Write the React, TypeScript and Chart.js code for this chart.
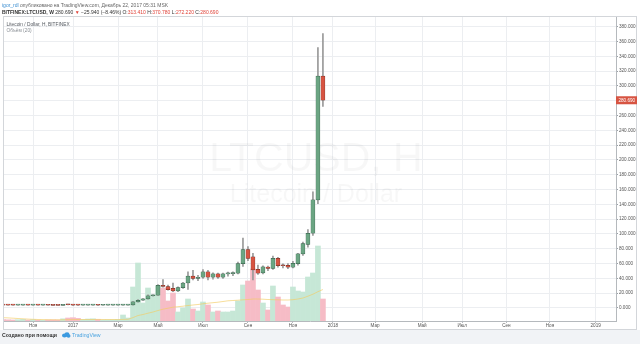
import React, { useEffect, useRef } from 'react';
import { Chart, registerables } from 'chart.js';

Chart.register(...registerables);

// ---- data (weekly LTCUSD, Bitfinex) ----
const FIRST_WEEK = '2016-09-26';

const opens = [
  3.85, 3.83, 3.8, 3.75, 3.8, 3.95, 3.85, 3.9, 3.85, 3.88, 3.72, 3.6, 3.55, 4.45, 4.35, 3.95, 3.8, 3.85, 3.9, 3.95, 3.7, 3.75, 3.8, 3.82, 3.9, 3.95,
  4.1, 8.3, 10.5, 12.3, 16.5, 17.3, 30.5, 29.0, 26.5, 23.2, 27.5, 33.8, 43.0, 40.0, 41.5, 49.0, 41.5, 46.0, 41.5, 46.0, 46.5, 47.0, 60.0,
  79.0, 69.0, 52.3, 47.5, 55.3, 53.5, 67.0, 57.5, 57.5, 55.0, 60.0, 73.0, 86.0, 101.0, 146.0, 313.41,
];
const highs = [
  3.95, 3.9, 3.88, 3.85, 4.05, 4.0, 3.95, 3.98, 3.92, 3.95, 3.8, 3.7, 4.6, 4.6, 4.6, 4.1, 3.95, 3.92, 4.0, 4.0, 3.8, 3.9, 3.9, 4.0, 4.1, 4.2,
  8.8, 11.5, 12.8, 17.8, 17.8, 31.5, 38.5, 31.0, 33.5, 28.5, 34.5, 49.0, 51.0, 44.0, 52.0, 51.0, 47.5, 47.0, 47.0, 48.5, 49.0, 62.0, 94.5,
  83.0, 74.0, 58.0, 57.0, 56.5, 70.0, 68.5, 59.5, 60.0, 63.0, 74.0, 89.0, 106.0, 157.0, 352.0, 370.78,
];
const lows = [
  3.78, 3.75, 3.72, 3.7, 3.78, 3.8, 3.8, 3.8, 3.8, 3.7, 3.55, 3.5, 3.5, 4.2, 3.6, 3.5, 3.75, 3.8, 3.8, 3.6, 3.65, 3.7, 3.75, 3.75, 3.8, 3.8,
  3.9, 8.0, 10.2, 12.0, 15.8, 17.0, 28.0, 24.0, 22.0, 22.0, 26.5, 25.0, 38.0, 37.0, 40.0, 38.0, 39.0, 40.0, 40.0, 43.0, 43.5, 46.0, 56.0,
  64.0, 38.0, 45.5, 46.0, 50.5, 52.0, 55.0, 54.0, 53.0, 54.0, 58.0, 71.0, 82.0, 98.0, 141.0, 272.22,
];
const closes = [
  3.83, 3.8, 3.75, 3.8, 3.95, 3.85, 3.9, 3.85, 3.88, 3.72, 3.6, 3.55, 4.45, 4.35, 3.95, 3.8, 3.85, 3.9, 3.95, 3.7, 3.75, 3.8, 3.82, 3.9, 3.95, 4.1,
  8.3, 10.5, 12.3, 16.5, 17.3, 30.5, 29.0, 24.8, 23.2, 27.5, 33.8, 43.0, 40.0, 41.5, 49.0, 41.5, 46.0, 41.5, 46.0, 46.5, 47.0, 60.0, 79.0,
  67.0, 51.5, 47.0, 55.5, 53.5, 67.0, 57.0, 57.0, 55.0, 60.2, 73.0, 87.0, 101.0, 146.0, 313.41, 280.69,
];
// volume, thousands of LTC
const volumes = [
  150, 120, 100, 130, 160, 100, 140, 90, 80, 100, 110, 100, 220, 300, 330, 260, 140, 200, 220, 150, 100, 110, 120, 150, 600, 300,
  3400, 5800, 1800, 3300, 2600, 3500, 3300, 2000, 2800, 900, 1300, 2200, 1200, 1000, 1900, 1600, 900, 1000, 900, 900, 1000, 2000, 3600,
  4000, 5200, 3100, 1800, 1100, 3500, 2400, 1600, 1400, 3400, 3000, 2900, 4400, 4800, 7500, 2200,
];
// 20-week moving average of volume, thousands of LTC
const volumeMA = [
  330, 310, 280, 250, 220, 190, 170, 150, 140, 130, 120, 120, 120, 130, 140, 150, 150, 150, 150, 160, 150, 150, 150, 140, 160, 170,
  340, 550, 650, 780, 900, 1050, 1180, 1280, 1380, 1430, 1480, 1550, 1600, 1650, 1720, 1780, 1830, 1880, 1950, 2020, 2050, 2080, 2120,
  2150, 2200, 2200, 2180, 2150, 2130, 2120, 2100, 2100, 2130, 2200, 2300, 2480, 2680, 2930, 3150,
];

const tickDates = [
  '2016-11-07', '2017-01-02', '2017-03-06', '2017-05-01', '2017-07-03', '2017-09-04', '2017-11-06',
  '2018-01-01', '2018-03-01', '2018-05-06', '2018-07-01', '2018-09-01', '2018-11-01', '2019-01-04',
];
const tickLabels = ['Ноя', '2017', 'Мар', 'Май', 'Июл', 'Сен', 'Ноя', '2018', 'Мар', 'Май', 'Июл', 'Сен', 'Ноя', '2019'];
const priceTicks = [0, 20, 40, 60, 80, 100, 120, 140, 160, 180, 200, 220, 240, 260, 280, 300, 320, 340, 360, 380];
const lastPrice = 280.69;

// ---- helpers ----
function dayOffset(iso: string): number {
  const [y, m, d] = iso.split('-').map(Number);
  return (Date.UTC(y, m - 1, d) - Date.UTC(2017, 0, 1)) / 86400000;
}

const FONT = "'Liberation Sans', Arial, sans-serif";
const X_MIN = -95.7;
const X_MAX = 761.5;
const Y_MIN = -17.6;
const Y_MAX = 393.2;
const VOL_MAX = 30400;

const UP = '#6ba583';
const DOWN = '#d75442';

export default function App() {
  const canvasRef = useRef<HTMLCanvasElement | null>(null);

  useEffect(() => {
    const canvas = canvasRef.current;
    if (!canvas) return;
    const start = dayOffset(FIRST_WEEK);
    const days = opens.map((_, i) => start + 7 * i);
    const up = closes.map((c, i) => c >= opens[i]);
    const tickDays = tickDates.map(dayOffset);

    const decor = {
      id: 'decor',
      beforeDraw(chart: any) {
        const { ctx, width, height } = chart;
        ctx.save();
        ctx.fillStyle = '#ffffff';
        ctx.fillRect(0, 0, width, height);
        ctx.fillStyle = '#f1f3f6';
        ctx.fillRect(0, 330, width, height - 330);
        ctx.strokeStyle = '#d3d6da';
        ctx.lineWidth = 1;
        ctx.strokeRect(3.5, 16.5, 633, 313);
        ctx.restore();
      },
      beforeDatasetsDraw(chart: any) {
        const { ctx } = chart;
        ctx.save();
        ctx.textAlign = 'center';
        ctx.textBaseline = 'alphabetic';
        ctx.fillStyle = 'rgba(0,0,0,0.03)';
        ctx.font = `41px ${FONT}`;
        ctx.fillText('LTCUSD, Н', 316, 171);
        ctx.font = `25px ${FONT}`;
        ctx.fillText('Litecoin / Dollar', 316, 202);
        ctx.textAlign = 'left';
        ctx.textBaseline = 'middle';
        ctx.font = `4.8px ${FONT}`;
        ctx.fillStyle = '#555a60';
        ctx.fillText('Litecoin / Dollar, Н, BITFINEX', 6.5, 24.5);
        ctx.fillStyle = '#8a8f95';
        ctx.fillText('Объём (20)', 6.5, 31);
        ctx.restore();
      },
      afterDraw(chart: any) {
        const { ctx } = chart;
        const y = chart.scales.y.getPixelForValue(lastPrice);
        ctx.save();
        ctx.fillStyle = DOWN;
        ctx.fillRect(616, y - 4, 21, 8);
        ctx.fillStyle = '#ffffff';
        ctx.font = `4.6px ${FONT}`;
        ctx.textAlign = 'left';
        ctx.textBaseline = 'middle';
        ctx.fillText(lastPrice.toFixed(3), 618.5, y + 0.3);
        ctx.restore();
      },
    };

    const chart = new Chart(canvas, {
      type: 'bar',
      data: {
        datasets: [
          {
            type: 'bar',
            label: 'Объём',
            yAxisID: 'yv',
            data: days.map((d, i) => ({ x: d, y: volumes[i] })),
            backgroundColor: up.map((u) => (u ? '#c6e7d6' : '#f6bcc6')),
            borderWidth: 0,
            grouped: false,
            barThickness: 5,
            order: 4,
          } as any,
          {
            type: 'line',
            label: 'MA',
            yAxisID: 'yv',
            data: days.map((d, i) => ({ x: d, y: volumeMA[i] })),
            borderColor: 'rgba(242,205,100,0.65)',
            borderWidth: 1,
            pointRadius: 0,
            tension: 0,
            order: 3,
          } as any,
          {
            type: 'bar',
            label: 'Wick',
            yAxisID: 'y',
            data: days.map((d, i) => ({ x: d, y: [lows[i], highs[i]] })),
            backgroundColor: '#999999',
            borderWidth: 0,
            grouped: false,
            barThickness: 1,
            order: 2,
          } as any,
          {
            type: 'bar',
            label: 'LTCUSD',
            yAxisID: 'y',
            data: days.map((d, i) => ({ x: d, y: [opens[i], closes[i]] })),
            backgroundColor: up.map((u) => (u ? UP : DOWN)),
            borderColor: up.map((u) => (u ? '#2a4f3c' : '#5e2219')),
            borderWidth: 0.5,
            borderSkipped: false,
            grouped: false,
            barThickness: 4,
            minBarLength: 1,
            order: 1,
          } as any,
        ],
      },
      options: {
        animation: false,
        responsive: false,
        events: [],
        layout: { padding: { left: 4, top: 17, right: 3, bottom: 15 } },
        plugins: { legend: { display: false }, tooltip: { enabled: false } },
        scales: {
          x: {
            type: 'linear',
            min: X_MIN,
            max: X_MAX,
            offset: false,
            afterBuildTicks: (s: any) => {
              s.ticks = tickDays.map((v) => ({ value: v }));
            },
            afterFit: (s: any) => {
              s.height = 8;
            },
            ticks: {
              autoSkip: false,
              maxRotation: 0,
              padding: 0,
              font: { size: 4.6, family: FONT },
              color: '#555',
              callback: (_v: any, i: number) => tickLabels[i],
            },
            grid: { color: '#eceef1', tickLength: 2, tickColor: '#b5b9bd', offset: false },
            border: { display: true, color: '#b5b9bd' },
          },
          y: {
            position: 'right',
            min: Y_MIN,
            max: Y_MAX,
            afterBuildTicks: (s: any) => {
              s.ticks = priceTicks.map((v) => ({ value: v }));
            },
            afterFit: (s: any) => {
              s.width = 21;
            },
            ticks: {
              padding: 1,
              font: { size: 4.6, family: FONT },
              color: '#555',
              callback: (v: any) => Number(v).toFixed(3),
            },
            grid: { color: '#eceef1', tickLength: 2, tickColor: '#9aa0a6' },
            border: { display: true, color: '#b5b9bd' },
          },
          yv: {
            display: false,
            min: 0,
            max: VOL_MAX,
            grid: { display: false },
          },
        },
      } as any,
      plugins: [decor as any],
    });
    return () => chart.destroy();
  }, []);

  const red = '#e0443a';
  const dark = '#333';
  return (
    <div style={{ position: 'fixed', left: 0, top: 0, width: 640, height: 344, overflow: 'hidden', background: '#fff' }}>
      <canvas ref={canvasRef} width={640} height={344} style={{ position: 'absolute', left: 0, top: 0, width: 640, height: 344 }} />
      <div style={{ position: 'absolute', left: 2, top: 2, fontFamily: FONT, fontSize: 5, lineHeight: '6px', whiteSpace: 'nowrap', color: '#666' }}>
        <span style={{ color: '#3d8fd1' }}>igor_rdl</span> опубликовано на TradingView.com, Декабрь 22, 2017 05:31 MSK
      </div>
      <div style={{ position: 'absolute', left: 2, top: 9, fontFamily: FONT, fontSize: 5, lineHeight: '6px', whiteSpace: 'nowrap', color: dark }}>
        <b>BITFINEX:LTCUSD, W</b> 280.690 <span style={{ color: red }}>▼</span> −25.940 (−8.46%) O:<span style={{ color: red }}>313.410</span> H:<span style={{ color: red }}>370.780</span> L:<span style={{ color: red }}>272.220</span> C:<span style={{ color: red }}>280.690</span>
      </div>
      <div style={{ position: 'absolute', left: 2, top: 332, fontFamily: FONT, fontSize: 5.2, lineHeight: '6px', whiteSpace: 'nowrap', color: '#333', display: 'flex', alignItems: 'center' }}>
        <b>Создано при помощи</b>
        <svg width="10" height="6" viewBox="0 0 20 12" style={{ marginLeft: 4, marginRight: 1 }}>
          <ellipse cx="7" cy="7" rx="5" ry="4" fill="#3c9ae0" />
          <ellipse cx="12" cy="5" rx="5" ry="4.5" fill="#3c9ae0" />
          <ellipse cx="15" cy="8" rx="4" ry="3.5" fill="#3c9ae0" />
        </svg>
        <span style={{ color: '#4aa3e0' }}>TradingView</span>
      </div>
    </div>
  );
}
